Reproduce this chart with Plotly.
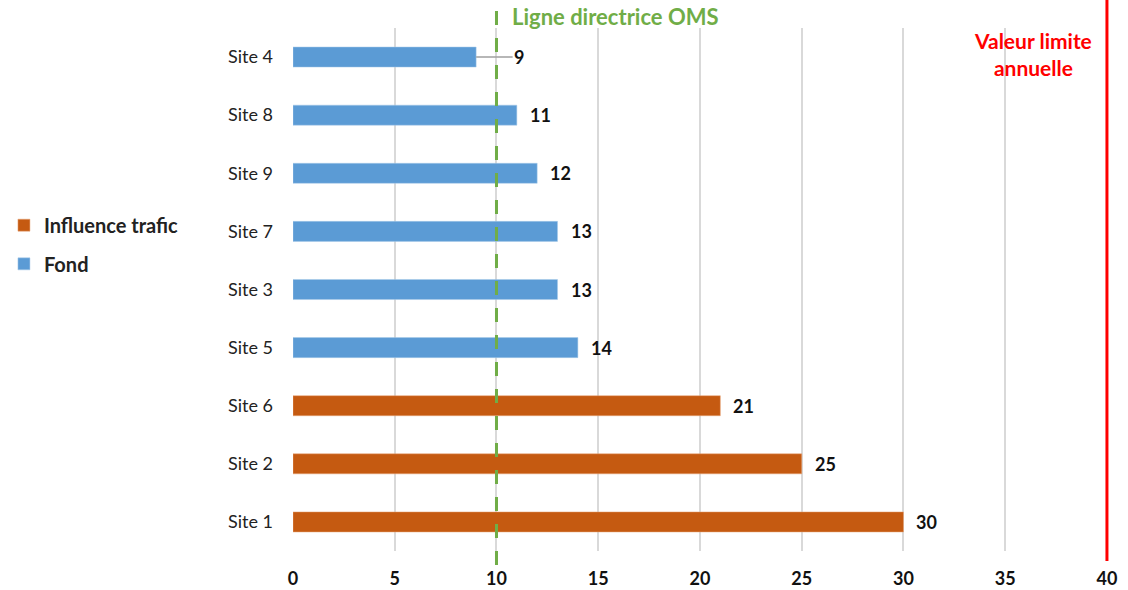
import plotly.graph_objects as go

# Data (bottom to top order of the axis)
categories = ["Site 1", "Site 2", "Site 6", "Site 5", "Site 3", "Site 7", "Site 9", "Site 8", "Site 4"]
trafic_sites = ["Site 1", "Site 2", "Site 6"]
trafic_values = [30, 25, 21]
fond_sites = ["Site 5", "Site 3", "Site 7", "Site 9", "Site 8", "Site 4"]
fond_values = [14, 13, 13, 12, 11, 9]
x_ticks = [0, 5, 10, 15, 20, 25, 30, 35, 40]
oms_value = 10
limit_value = 40

FONT = "Lato"
ORANGE = "#C55A11"
BLUE = "#5B9BD5"

fig = go.Figure()
fig.add_trace(go.Bar(
    y=trafic_sites, x=trafic_values, orientation="h", name="Influence trafic",
    marker=dict(color=ORANGE, line=dict(color="#E9A77A", width=0.5)), legend="legend",
))
fig.add_trace(go.Bar(
    y=fond_sites, x=fond_values, orientation="h", name="Fond",
    marker=dict(color=BLUE, line=dict(color="#A9CAE9", width=0.5)), legend="legend2",
))

annotations = []
for s, v in list(zip(trafic_sites, trafic_values)) + list(zip(fond_sites, fond_values)):
    if s == "Site 4":
        annotations.append(dict(
            x=v, y=s, xref="x", yref="y", text=f"<b>{v}</b>", showarrow=True,
            arrowhead=0, arrowwidth=1.5, arrowcolor="#A0A0A0", ax=43, ay=0,
            standoff=0, startstandoff=0,
            font=dict(family=FONT, size=18, color="#111"),
        ))
    else:
        annotations.append(dict(
            x=v, y=s, xref="x", yref="y", text=f"<b>{v}</b>", showarrow=False,
            xanchor="left", yanchor="middle", xshift=11,
            font=dict(family=FONT, size=18, color="#111"),
        ))

annotations.append(dict(
    x=oms_value, y=1.0, xref="x", yref="paper", text="<b>Ligne directrice OMS</b>",
    showarrow=False, xanchor="left", yanchor="middle", xshift=14, yshift=12,
    font=dict(family=FONT, size=22, color="#70AD47"),
))
annotations.append(dict(
    x=limit_value, y=1.0, xref="x", yref="paper", text="<b>Valeur limite<br>annuelle</b>",
    showarrow=False, xanchor="center", yanchor="top", xshift=-74, yshift=2,
    font=dict(family=FONT, size=21, color="#FF0000"),
))

shapes = [
    dict(type="line", xref="x", yref="paper", x0=oms_value, x1=oms_value, y0=-0.027, y1=1.034,
         line=dict(color="#70AD47", width=3, dash="14px,13px"), layer="above"),
    dict(type="line", xref="x", yref="paper", x0=limit_value, x1=limit_value, y0=-0.019, y1=1.06,
         line=dict(color="#FF0000", width=3), layer="above"),
]

fig.update_layout(
    width=1128, height=590,
    margin=dict(l=293, r=18, t=28, b=39, autoexpand=False),
    paper_bgcolor="white", plot_bgcolor="white",
    barmode="overlay", bargap=0.655,
    font=dict(family=FONT, size=16, color="#222"),
    annotations=annotations, shapes=shapes,
    legend=dict(x=-0.3538, y=0.623, xanchor="left", yanchor="middle",
                font=dict(family=FONT, size=20, color="#222", weight="bold"),
                bgcolor="rgba(0,0,0,0)"),
    legend2=dict(x=-0.3538, y=0.549, xanchor="left", yanchor="middle",
                 font=dict(family=FONT, size=20, color="#222", weight="bold"),
                 bgcolor="rgba(0,0,0,0)"),
    showlegend=True,
)
fig.update_xaxes(
    range=[0, 40.15], tickvals=x_ticks, ticktext=[f"<b>{t}</b>" for t in x_ticks],
    showgrid=True, gridcolor="#D9D9D9", gridwidth=1.5, zeroline=False,
    tickfont=dict(family=FONT, size=18, color="#111"), ticks="", ticklabelstandoff=15,
    showline=False, automargin=False,
)
fig.update_yaxes(
    categoryorder="array", categoryarray=categories, showgrid=False, zeroline=False,
    tickfont=dict(family=FONT, size=18, color="#222"), ticks="", ticklabelstandoff=19,
    showline=False, automargin=False,
)
fig.write_html("out.html")
